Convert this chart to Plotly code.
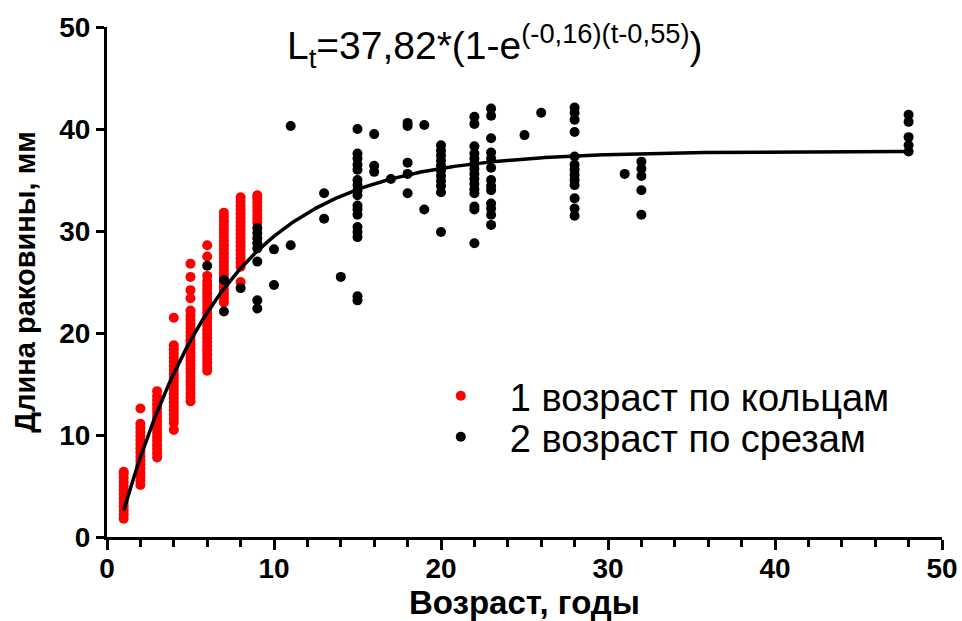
import numpy as np
import plotly.graph_objects as go

# Shell length (mm) by age, ages from growth rings
ring_age_1 = [1.8, 2.2, 2.6, 3.0, 3.4, 3.8, 4.2, 4.6, 5.0, 5.4, 5.8, 6.2, 6.4]
ring_age_2 = [5.1, 5.5, 5.9, 6.3, 6.7, 7.1, 7.5, 7.9, 8.3, 8.7, 9.1, 9.5, 9.9,
              10.3, 10.7, 11.1, 12.6]
ring_age_3 = [7.8, 8.2, 8.6, 9.0, 9.4, 9.8, 10.2, 10.6, 11.0, 11.4, 11.8, 12.2,
              12.6, 13.0, 13.4, 13.8, 14.3]
ring_age_4 = [10.5, 11.2, 11.6, 12.0, 12.4, 12.8, 13.2, 13.6, 14.0, 14.4, 14.8,
              15.2, 15.6, 16.0, 16.4, 16.8, 17.2, 17.6, 18.0, 18.4, 18.8, 21.5]
ring_age_5 = [13.3, 13.7, 14.1, 14.5, 14.9, 15.3, 15.7, 16.1, 16.5, 16.9, 17.3,
              17.7, 18.1, 18.5, 18.9, 19.3, 19.7, 20.1, 20.5, 20.9, 21.3, 21.7,
              22.2, 23.4, 24.2, 25.5, 26.8]
ring_age_6 = [16.3, 16.7, 17.1, 17.5, 17.9, 18.3, 18.7, 19.1, 19.5, 19.9, 20.3,
              20.7, 21.1, 21.5, 21.9, 22.3, 22.7, 23.1, 23.5, 23.9, 24.3, 24.7,
              25.1, 25.6, 27.5, 28.6]
ring_age_7 = [23.0, 23.4, 23.8, 24.2, 24.6, 25.0, 25.4, 25.8, 26.2, 26.6, 27.0,
              27.4, 27.8, 28.2, 28.6, 29.0, 29.4, 29.8, 30.2, 30.6, 31.0, 31.4,
              31.8]
ring_age_8 = [25.0, 26.5, 26.9, 27.3, 27.7, 28.1, 28.5, 28.9, 29.3, 29.7, 30.1,
              30.5, 30.9, 31.3, 31.7, 32.1, 32.5, 32.9, 33.3]
ring_age_9 = [30.8, 31.2, 31.6, 32.0, 32.4, 32.8, 33.2, 33.5]
ring_groups = [ring_age_1, ring_age_2, ring_age_3, ring_age_4, ring_age_5,
               ring_age_6, ring_age_7, ring_age_8, ring_age_9]

# Shell length (mm) by age, ages from shell sections
cut_age = [6,
           7, 7,
           8,
           9, 9, 9, 9, 9, 9, 9, 9,
           10, 10,
           11, 11,
           13, 13,
           14,
           15, 15, 15, 15, 15, 15, 15, 15, 15, 15, 15, 15, 15, 15, 15, 15, 15,
           16, 16, 16,
           17,
           18, 18, 18, 18, 18,
           19, 19,
           20, 20, 20, 20, 20, 20, 20, 20, 20, 20, 20,
           22, 22, 22, 22, 22, 22, 22, 22, 22, 22, 22, 22, 22, 22, 22,
           23, 23, 23, 23, 23, 23, 23, 23, 23, 23, 23, 23, 23,
           25,
           26,
           28, 28, 28, 28, 28, 28, 28, 28, 28, 28, 28, 28, 28,
           31,
           32, 32, 32, 32, 32,
           48, 48, 48, 48, 48]
cut_len = [26.6,
           25.2, 22.1,
           24.4,
           30.3, 29.8, 29.3, 28.8, 28.3, 27.0, 23.2, 22.4,
           28.2, 24.7,
           40.3, 28.6,
           33.7, 31.2,
           25.5,
           40.0, 37.6, 37.1, 36.5, 36.0, 35.0, 34.5, 34.0, 33.5, 32.5, 32.1,
           31.6, 30.4, 29.9, 29.4, 23.6, 23.2,
           39.5, 36.4, 35.8,
           35.1,
           40.6, 40.3, 36.7, 35.6, 33.7,
           40.4, 32.1,
           38.4, 37.9, 37.4, 36.9, 36.4, 35.9, 35.4, 34.9, 34.4, 33.8, 29.9,
           41.2, 40.5, 38.3, 37.6, 37.1, 36.6, 36.1, 35.6, 35.1, 34.6, 34.1,
           33.7, 32.4, 32.1, 28.8,
           42.0, 41.3, 39.1, 37.7, 37.1, 36.2, 35.0, 34.4, 34.0, 32.7, 32.2,
           31.6, 30.6,
           39.4,
           41.6,
           42.1, 41.6, 40.9, 39.7, 37.3, 36.5, 36.0, 35.5, 35.0, 34.5, 33.2,
           32.2, 31.5,
           35.6,
           36.8, 36.1, 35.4, 34.0, 31.6,
           41.4, 40.7, 39.2, 38.4, 37.8]

# von Bertalanffy growth parameters
L_inf = 37.82
k = 0.16
t0 = 0.55
t_start, t_end = 1, 48

ring_x = [age for age, vals in enumerate(ring_groups, start=1) for _ in vals]
ring_y = [v for vals in ring_groups for v in vals]

t = np.linspace(t_start, t_end, 400)
L_t = L_inf * (1 - np.exp(-k * (t - t0)))

FONT = "Liberation Sans, Arial, sans-serif"

fig = go.Figure()
fig.add_trace(go.Scatter(
    x=ring_x, y=ring_y, mode="markers", name="1 возраст по кольцам",
    marker=dict(color="#ff0000", size=10, line=dict(width=0)),
    legend="legend",
))
fig.add_trace(go.Scatter(
    x=cut_age, y=cut_len, mode="markers", name="2 возраст по срезам",
    marker=dict(color="#000000", size=10, line=dict(width=0)),
    legend="legend2",
))
fig.add_trace(go.Scatter(
    x=t, y=L_t, mode="lines", showlegend=False,
    line=dict(color="#000000", width=3.5),
))

axis_common = dict(
    showline=True, linecolor="black", linewidth=3,
    showgrid=False, zeroline=False,
    ticks="outside", tickcolor="black", tickwidth=3,
    tickfont=dict(family=FONT, size=28, color="black", weight="bold"),
    range=[0, 50], dtick=10, tick0=0,
)

legend_common = dict(
    xanchor="left", yanchor="middle",
    font=dict(family=FONT, size=38, color="black"),
    itemwidth=88, bgcolor="rgba(0,0,0,0)",
)

fig.update_layout(
    width=962, height=621,
    margin=dict(l=107, r=20, t=27, b=84, autoexpand=False),
    paper_bgcolor="white", plot_bgcolor="white",
    font=dict(family=FONT, color="black"),
    xaxis=dict(
        **axis_common, ticklen=10, ticklabelstandoff=-6,
        minor=dict(dtick=2, ticks="outside", ticklen=7, tickwidth=2.5,
                   tickcolor="black"),
        title=dict(text="Возраст, годы", standoff=10,
                   font=dict(family=FONT, size=33, color="black", weight="bold")),
    ),
    yaxis=dict(
        **axis_common, ticklen=8,
        title=dict(text="Длина раковины, мм", standoff=16,
                   font=dict(family=FONT, size=29, color="black", weight="bold")),
    ),
    legend=dict(**legend_common, x=0.365, y=0.2765),
    legend2=dict(**legend_common, x=0.365, y=0.196),
    showlegend=True,
    annotations=[dict(
        xref="paper", yref="paper", x=0.465, y=0.962,
        xanchor="center", yanchor="middle", showarrow=False,
        text="L<sub>t</sub>=37,82*(1-e<sup>(-0,16)(t-0,55)</sup>)",
        font=dict(family=FONT, size=39, color="black"),
    )],
)

fig.write_html("out.html")
